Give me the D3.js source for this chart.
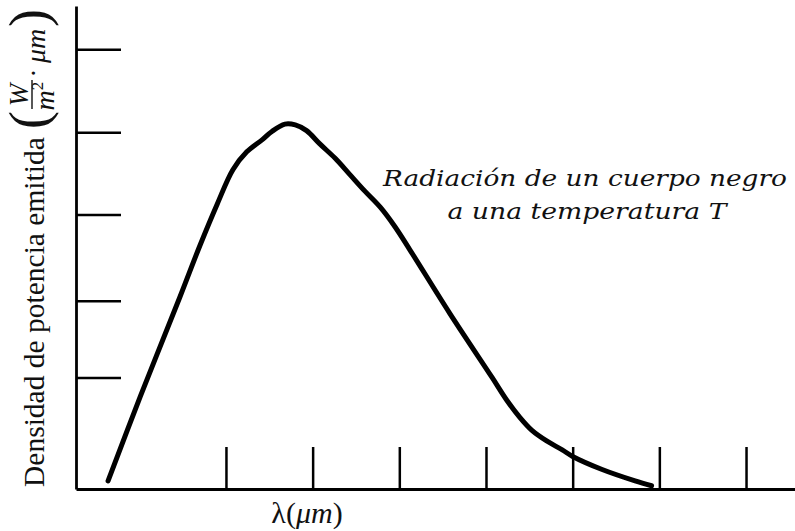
<!DOCTYPE html>
<html>
<head>
<meta charset="utf-8">
<script src="https://cdn.jsdelivr.net/npm/d3@7"></script>
<style>
  html, body { margin: 0; padding: 0; background: #fff; }
  svg { display: block; }
</style>
</head>
<body>
<div id="chart"></div>
<script>
// Black body curve (arbitrary units)
const wavelength = [0.64, 1.01, 1.47, 1.70, 1.90, 2.08, 2.24, 2.42, 2.53, 2.68, 2.80, 2.93, 3.08, 3.26, 3.43, 3.60, 3.78, 3.95, 4.12, 4.58, 5.07, 5.24, 5.39, 5.53, 5.70, 5.88, 6.00, 6.34, 6.72, 6.91]
const power = [0.10, 1.13, 2.36, 2.99, 3.50, 3.92, 4.14, 4.29, 4.39, 4.48, 4.47, 4.40, 4.24, 4.06, 3.86, 3.66, 3.46, 3.22, 2.94, 2.16, 1.37, 1.09, 0.88, 0.72, 0.59, 0.48, 0.40, 0.24, 0.10, 0.04]
const xTicks = [2, 3, 4, 5, 6, 7, 8]
const yTicks = [1.37, 2.31, 3.37, 4.38, 5.4]
const yLabel = 'Densidad de potencia emitida'
const curveLabel = ['Radiación de un cuerpo negro', 'a una temperatura T']

const width = 795
const height = 531
const margin = { top: 6, right: 0, bottom: 42, left: 76 }
const innerW = width - margin.left - margin.right
const innerH = height - margin.top - margin.bottom

const svg = d3.select('#chart').append('svg')
  .attr('width', width)
  .attr('height', height)

const g = svg.append('g')
  .attr('transform', `translate(${margin.left},${margin.top})`)

const x = d3.scaleLinear().domain([0.27, 8.565]).range([0, innerW])
const y = d3.scaleLinear().domain([0, 5.93]).range([innerH, 0])

// Axes: ticks point inward, no labels
const xAxis = g.append('g')
  .attr('transform', `translate(0,${innerH})`)
  .call(d3.axisBottom(x).tickValues(xTicks).tickSize(-42).tickSizeOuter(0).tickFormat(''))

const yAxis = g.append('g')
  .call(d3.axisLeft(y).tickValues(yTicks).tickSize(-45).tickSizeOuter(0).tickFormat(''))

;[xAxis, yAxis].forEach(ax => {
  ax.select('.domain').attr('stroke', '#000').attr('stroke-width', 2.8)
  ax.selectAll('.tick line').attr('stroke', '#000').attr('stroke-width', 2.5)
})

// Curve
const points = wavelength.map((w, i) => [w, power[i]])
const line = d3.line()
  .x(d => x(d[0]))
  .y(d => y(d[1]))
  .curve(d3.curveCatmullRom.alpha(0.5))

g.append('path')
  .datum(points)
  .attr('fill', 'none')
  .attr('stroke', '#000')
  .attr('stroke-width', 5)
  .attr('stroke-linecap', 'round')
  .attr('stroke-linejoin', 'round')
  .attr('d', line)

// Curve annotation
const note = svg.append('text')
  .attr('font-family', '"DejaVu Serif", serif')
  .attr('font-style', 'italic')
  .attr('font-size', 22)
  .attr('fill', '#111')
  .attr('text-anchor', 'middle')

note.append('tspan').attr('x', 585).attr('y', 186).attr('textLength', 404).attr('lengthAdjust', 'spacingAndGlyphs').text(curveLabel[0])
note.append('tspan').attr('x', 587).attr('y', 219).attr('textLength', 279).attr('lengthAdjust', 'spacingAndGlyphs').text(curveLabel[1])

// X axis label
const xl = svg.append('text')
  .attr('x', 307)
  .attr('y', 523)
  .attr('text-anchor', 'middle')
  .attr('font-family', '"Liberation Serif", serif')
  .attr('font-size', 30)
  .attr('fill', '#111')
xl.append('tspan').text('λ(')
xl.append('tspan').attr('font-style', 'italic').text('μm')
xl.append('tspan').text(')')

// Y axis label (rotated), with the unit fraction
const yl = svg.append('g')
  .attr('transform', 'translate(44,487) rotate(-90)')
  .attr('font-family', '"Liberation Serif", serif')
  .attr('fill', '#111')

yl.append('text').attr('x', 0).attr('y', 0).attr('font-size', 29.5).text(yLabel)
yl.append('text').attr('x', 358).attr('y', 3).attr('font-size', 54).text('(')
yl.append('text').attr('x', 392).attr('y', -16).attr('text-anchor', 'middle')
  .attr('font-size', 27).attr('font-style', 'italic').text('W')
yl.append('line')
  .attr('x1', 378).attr('x2', 407).attr('y1', -12).attr('y2', -12)
  .attr('stroke', '#111').attr('stroke-width', 1.4)
const m2 = yl.append('text').attr('x', 391).attr('y', 10).attr('text-anchor', 'middle')
  .attr('font-size', 28).attr('font-style', 'italic')
m2.append('tspan').text('m')
m2.append('tspan').attr('font-size', 17).attr('font-style', 'normal').attr('dy', -11).text('2')
yl.append('text').attr('x', 414).attr('y', -1).attr('text-anchor', 'middle')
  .attr('font-size', 28).text('·')
yl.append('text').attr('x', 424).attr('y', 1).attr('font-size', 28)
  .attr('font-style', 'italic').text('μm')
yl.append('text').attr('x', 460).attr('y', 3).attr('font-size', 54).text(')')
</script>
</body>
</html>
